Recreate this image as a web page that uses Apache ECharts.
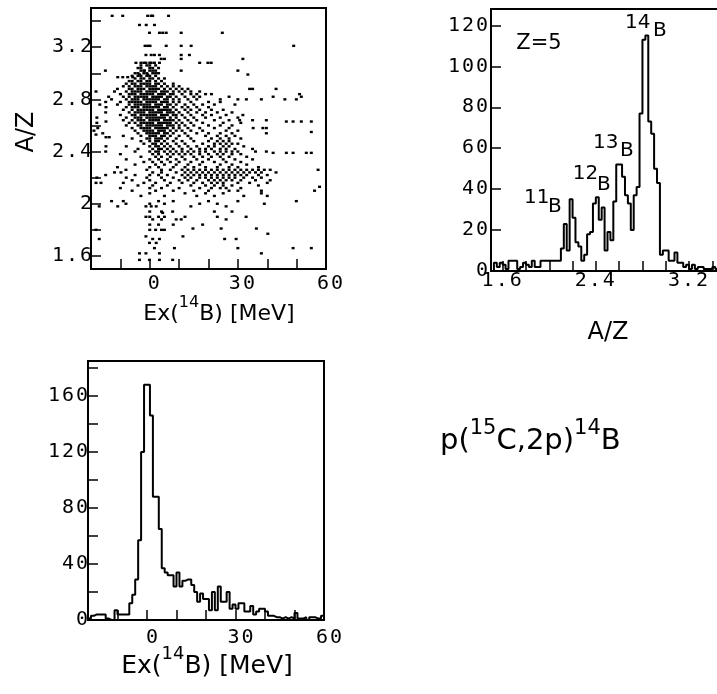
<!DOCTYPE html>
<html><head><meta charset="utf-8">
<script src="https://cdn.jsdelivr.net/npm/echarts@6/dist/echarts.min.js"></script>
<style>html,body{margin:0;padding:0;background:#fff}#c{width:717px;height:694px}</style>
</head><body><div id="c"></div>
<script>
// ---------- DATA ----------
// Bottom histogram: Ex(14B) in 1 MeV bins starting at -20 MeV
const exBinStart = -20;
const exBinWidth = 1;
const exCounts = [1,3,4,4,4,4,1,0,0,7,4,4,4,4,12,18,29,57,120,168,
  168,146,88,88,65,37,34,32,32,24,
  34,24,28,29,29,25,20,13,19,15,
  15,7,20,7,24,13,13,20,8,11,
  8,12,12,6,6,10,4,6,8,8,
  6,3,3,2,2,1,2,1,2,1,
  5,1,1,2,0,2,2,1,1,3];

// Top-right histogram: A/Z for Z=5, bins of 0.025 starting at 1.5
const azBinStart = 1.5;
const azBinWidth = 0.025;
const azCounts = [0,4,2,4,3,1,5,5,5,1,
  2,4,3,2,5,2,2,5,5,5,
  5,5,5,5,11,23,10,35,26,14,
  12,5,8,18,19,33,36,25,31,10,
  19,15,34,52,52,46,37,33,20,37,
  41,77,113,115,73,67,50,43,8,10,
  10,5,5,9,4,4,2,3,1,3,
  1,2,2,1,1,1,2,1,2,4];

// Scatter Ex vs A/Z : rows [A/Z, [Ex values]]
const scatterRows = [
 [3.44,[-12.8,-9.2,-0.7,0.5,1,6.4]],
 [3.37,[-3.5,-1.2,1.6]],
 [3.31,[-0.1,3.3,4.4,5.6,10.7,24.7]],
 [3.21,[-1.6,-0.7,0.1,5.6,10.7,14.1,49]],
 [3.14,[-1.3,0.5,1.6,3.3,10.7,13.5]],
 [3.11,[3.9,5,10.7,31.7]],
 [3.08,[-4.7,-3,-2,-1.3,0,0.5,1.6,3.3,17,19.8,20.9]],
 [3.06,[-3,-1,0,2]],
 [3.04,[-4,-3,0,1,3]],
 [3.02,[-15.1,-3,-2,-1.8,0,1,2,10.7,30]],
 [3.00,[-5,-4,-2,-1,1,2,3]],
 [2.99,[-3.5,-0.7,33.4]],
 [2.98,[-6,-4,-3,-1,0,2]],
 [2.97,[-10.9,-9.2,-7.5,-5.8]],
 [2.96,[-5,-3,-2,0,1,3,5]],
 [2.94,[-7,-6,-4,-3,-1,0,2,4]],
 [2.92,[-8,-6,-5,-3,-2,-1,0,2,3,5,8]],
 [2.90,[-9,-7,-5,-4,-3,-1,0,1,2,4,6,8,10]],
 [2.88,[-11,-7,-6,-4,-3,-2,0,1,2,3,5,7,9,11,13,34,35,43]],
 [2.86,[-18.3,-12,-8,-6,-5,-4,-3,-1,0,1,2,4,5,6,8,10,12,14,17]],
 [2.84,[-10,-7,-6,-5,-3,-2,-1,0,1,3,4,5,7,8,11,14,16,19,21,51]],
 [2.82,[-14,-9,-7,-5,-4,-3,-2,-1,1,2,3,4,6,7,9,12,15,17,27,42,51.6]],
 [2.80,[-13,-8,-6,-5,-4,-2,-1,0,1,2,3,5,6,8,10,13,16,24,30,32.9,38,46,49.9]],
 [2.78,[-15,-10,-7,-6,-5,-4,-3,-1,0,1,2,4,5,6,8,10,14,20,24]],
 [2.76,[-17,-11,-7,-5,-4,-3,-2,-1,0,2,3,4,6,7,9,12,15,18,22,29]],
 [2.74,[-14.9,-8,-6,-5,-4,-2,-1,0,1,2,3,5,6,8,11,13,16,20]],
 [2.72,[-9,-6,-4,-3,-2,-1,0,1,3,4,5,6,7,9,12,14,17,21,25]],
 [2.70,[-15,-7,-5,-4,-3,-2,0,1,2,3,4,6,7,8,10,13,16,19,23,28]],
 [2.68,[-10,-6,-5,-3,-2,-1,0,1,2,4,5,6,8,9,11,14,18,21,26,31.7]],
 [2.66,[-18,-8,-5,-4,-3,-1,0,1,2,3,4,5,7,9,12,15,19,24,30]],
 [2.64,[-9,-6,-4,-3,-2,0,1,2,3,5,6,7,8,10,13,16,22,27,30.6,35,39.7]],
 [2.63,[-14.9,46.5,48.8,51.6,55]],
 [2.62,[-18,-7,-5,-3,-2,-1,0,1,3,4,5,6,7,9,11,14,18,25,31]],
 [2.60,[-8,-4,-3,-1,0,1,2,3,4,6,7,8,10,12,15,20,24,28]],
 [2.58,[-17.7,-6,-3,-2,-1,0,2,3,4,5,6,8,10,13,17,22,27,35.2,38.5,39.7]],
 [2.56,[-19,-5,-2,-1,0,1,3,4,5,7,9,11,14,18,26,30]],
 [2.54,[-16,-4,-1,0,1,2,3,5,6,8,12,16,20,24,28,39.7]],
 [2.55,[55]],
 [2.53,[-18.3]],
 [2.52,[-9,-3,0,1,2,4,5,7,10,13,19,23,26,29]],
 [2.51,[-14.9,-13.8]],
 [2.50,[-6,-1,0,2,3,4,6,9,14,21,24,27,31]],
 [2.48,[-3,0,2,3,5,8,11,15,20,23,25,27]],
 [2.46,[-2,1,2,4,6,9,12,18,22,24,26,28,30]],
 [2.44,[-14.9,-8,0,2,3,5,7,10,13,16,20,22,25,27,32]],
 [2.42,[-4,1,3,4,6,8,11,14,17,19,21,24,26,29,35]],
 [2.40,[-15,-5,0,2,3,5,7,9,11,13,15,17,19,22,24,26,28,30,36,39.7]],
 [2.39,[42,46.5,48.8,53.3,55]],
 [2.38,[-10,1,3,6,8,10,12,14,17,20,23,25,28,31]],
 [2.36,[-3,2,4,7,11,15,18,21,24,27,33]],
 [2.34,[-8,0,3,6,9,12,16,20,25,29,35]],
 [2.32,[-2,1,4,7,10,14,18,22,26,31]],
 [2.30,[-5,2,5,9,13,17,24,28,33]],
 [2.28,[-11,0,3,8,12,15,19,23,27,30,37]],
 [2.26,[-8.1,-1,4,7,11,13,15,17,19,21,23,25,27,29,31,33,35,37,39,41,57.3]],
 [2.24,[-12,-9.8,1,4,9,12,14,16,18,20,22,24,26,28,30,32,34,36,38,43]],
 [2.22,[-15,-5,0,3,6,11,13,15,17,19,21,23,25,27,29,31,33,37,40]],
 [2.20,[-18,-8,-1,4,8,12,14,17,19,21,23,25,27,29,32,35,38]],
 [2.18,[-6,0,5,10,13,16,20,22,24,26,28,31,36,41]],
 [2.16,[-18.3,-16.6,-9,-2,2,7,11,15,18,21,23,25,30,34,40]],
 [2.14,[-4,1,6,14,19,22,25,28,37]],
 [2.13,[57.8]],
 [2.12,[-10,0,4,10,17,21,24,26,31]],
 [2.10,[-6,2,8,15,20,27,30,38,56.1]],
 [2.08,[0,12,19,25,38]],
 [2.06,[-3,5,16,22,32,40]],
 [2.02,[-13,-9,3,8,20,30,49.9]],
 [2.00,[-8.1,0,5,17,23,39]],
 [1.98,[-17.2,-10.9,-1.3,0.5,2.2,14,26]],
 [1.94,[0,4,7.8,22,28]],
 [1.93,[4.4]],
 [1.90,[-1.3,0,3,5,12,23,32.8]],
 [1.88,[1,4,9,10.7,26]],
 [1.84,[0,3,8,18]],
 [1.81,[14.7,24.3,36.3]],
 [1.80,[-18.3,0,2,4,5]],
 [1.77,[40.2]],
 [1.75,[-1.3,11.3]],
 [1.73,[-17.2,1,3.3,25.5,29.4]],
 [1.70,[-0.1,2.2]],
 [1.66,[1.6,8.4,30,48.8,55]],
 [1.62,[-3.5,-1.3,3.3,38]],
 [1.57,[-3.5,-0.1,3.3,7.8]]
];

// Tick values / labels
const exTicks = [-10,0,10,20,30,40,50];
const exLabels = [0,30,60];
const azTicks = [1.6,1.8,2.0,2.2,2.4,2.6,2.8,3.0,3.2,3.4];
const azScatterLabels = [1.6,2,2.4,2.8,3.2];
const azHistLabels = [1.6,2.4,3.2];
const azCountTicks = [0,20,40,60,80,100,120];
const azCountLabels = [0,20,40,60,80,100,120];
const exCountTicks = [20,40,60,80,100,120,140,160,180];
const exCountLabels = [0,40,80,120,160];

// ---------- BUILD ----------
function histLine(start, width, counts) {
  const d = counts.map((v, i) => [start + i * width, v]);
  d.push([start + counts.length * width, counts[counts.length - 1]]);
  return d;
}
const scatterData = [];
scatterRows.forEach(([a, es]) => es.forEach(e => scatterData.push([e, a])));

function spaced(v) {
  return String(v).split('').map(c => '{d|' + c + '}').join('');
}
const MONO = 'DejaVu Sans Mono';
const TICK_FS = 20;
const tickRich = { d: { fontFamily: MONO, fontSize: TICK_FS, color: '#000', padding: [0, 0, 0, 2] } };

function valAxis(grid, min, max, ticks, labels, pos, margin, lpad) {
  return {
    type: 'value', gridIndex: grid, min: min, max: max, position: pos,
    axisLine: { show: true, onZero: false, lineStyle: { color: '#000', width: 2 } },
    axisTick: { show: true, inside: true, length: 10, customValues: ticks, lineStyle: { color: '#000', width: 1.5 } },
    axisLabel: { show: true, customValues: labels, formatter: v => spaced(v), rich: tickRich,
      fontFamily: MONO, fontSize: TICK_FS, color: '#000', margin: margin, padding: lpad || 0 },
    splitLine: { show: false }
  };
}

const chart = echarts.init(document.getElementById('c'), null, { renderer: 'canvas' });
const border = { show: true, borderColor: '#000', borderWidth: 2, backgroundColor: 'transparent',
  outerBoundsMode: 'none', containLabel: false };
const SANS = 'DejaVu Sans';
function titleRich(n, s) {
  return { n: { fontFamily: SANS, fontSize: n, lineHeight: n + 8, verticalAlign: 'bottom', color: '#000' },
           s: { fontFamily: SANS, fontSize: s, lineHeight: s, verticalAlign: 'top', color: '#000' } };
}
function plain(x, y, text, size, align) {
  return { type: 'text', x: x, y: y,
    style: { text: text, font: size + 'px ' + SANS, fill: '#000', textAlign: align || 'left', textVerticalAlign: 'middle' } };
}

chart.setOption({
  animation: false,
  grid: [
    Object.assign({ left: 91, top: 8, width: 235, height: 261 }, border),
    Object.assign({ left: 491, top: 9, width: 233, height: 262 }, border),
    Object.assign({ left: 88, top: 361, width: 236, height: 259 }, border)
  ],
  xAxis: [
    valAxis(0, -20, 60, exTicks, exLabels, 'bottom', 5, [0, 0, 0, 6]),
    valAxis(1, 1.5, 3.5, azTicks, azHistLabels, 'bottom', 0, [0, 4, 0, 0]),
    valAxis(2, -20, 60, exTicks, exLabels, 'bottom', 8, [0, 0, 0, 8])
  ],
  yAxis: [
    valAxis(0, 1.5, 3.5, azTicks, azScatterLabels, 'left', -1),
    valAxis(1, 0, 128, azCountTicks, azCountLabels, 'left', 3),
    valAxis(2, 0, 185, exCountTicks, exCountLabels, 'left', 0)
  ],
  series: [
    { type: 'scatter', xAxisIndex: 0, yAxisIndex: 0, data: scatterData, symbol: 'rect', symbolSize: [3, 2.4],
      itemStyle: { color: '#000', opacity: 1 }, silent: true },
    { type: 'line', xAxisIndex: 1, yAxisIndex: 1, data: histLine(azBinStart, azBinWidth, azCounts), step: 'end',
      symbol: 'none', lineStyle: { color: '#000', width: 2 }, silent: true },
    { type: 'line', xAxisIndex: 2, yAxisIndex: 2, data: histLine(exBinStart, exBinWidth, exCounts), step: 'end',
      symbol: 'none', lineStyle: { color: '#000', width: 2 }, silent: true }
  ],
  graphic: [
    { type: 'text', x: 27, y: 132, rotation: Math.PI / 2,
      style: { text: 'A/Z', font: '24px ' + SANS, fill: '#000', textAlign: 'center', textVerticalAlign: 'middle' } },
    { type: 'text', x: 219, y: 310,
      style: { text: '{n|Ex(}{s|14}{n|B) [MeV]}', textAlign: 'center', textVerticalAlign: 'middle', rich: titleRich(22, 16) } },
    { type: 'text', x: 207, y: 662,
      style: { text: '{n|Ex(}{s|14}{n|B) [MeV]}', textAlign: 'center', textVerticalAlign: 'middle', rich: titleRich(25, 18) } },
    plain(608, 333, 'A/Z', 24, 'center'),
    { type: 'text', x: 440, y: 437,
      style: { text: '{n|p(}{s|15}{n|C,2p)}{s|14}{n|B}', textAlign: 'left', textVerticalAlign: 'middle', rich: titleRich(29, 21) } },
    plain(539, 43.5, 'Z=5', 21, 'center'),
    plain(625, 22.5, '14', 20), plain(653, 30.8, 'B', 20),
    plain(593, 142.5, '13', 20), plain(620, 150.5, 'B', 20),
    plain(572.7, 173.3, '12', 20), plain(597, 185, 'B', 20),
    plain(524, 197.5, '11', 20), plain(548, 206.5, 'B', 20)
  ]
});
</script>
</body></html>
